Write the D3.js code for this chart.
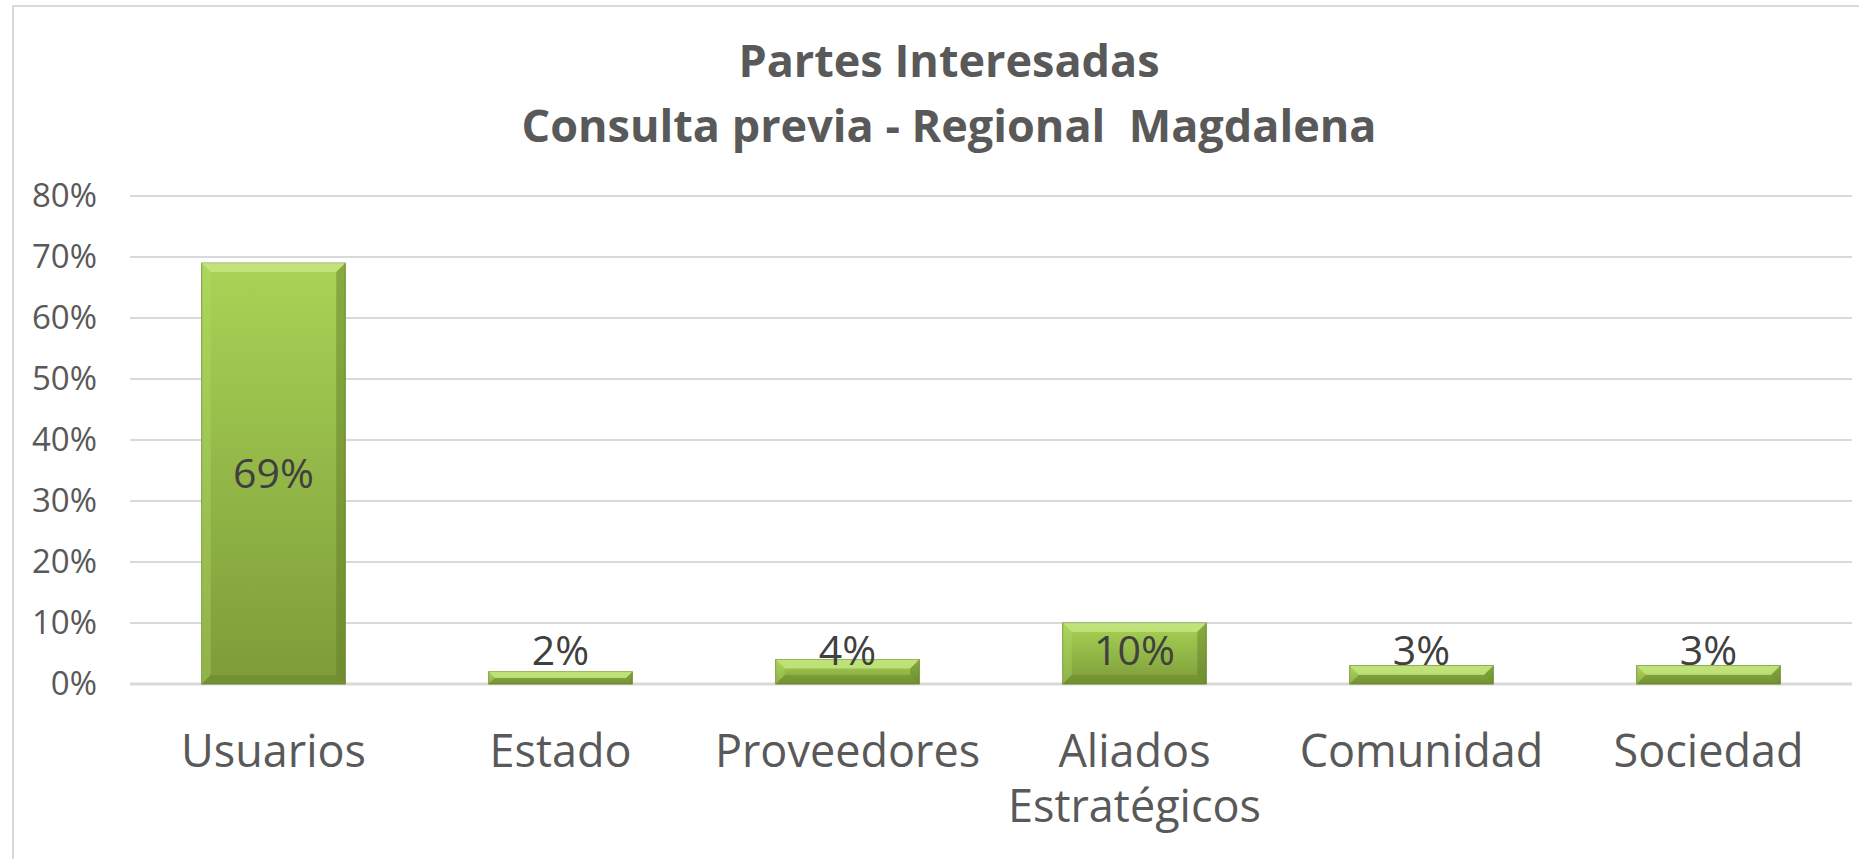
<!DOCTYPE html>
<html>
<head>
<meta charset="utf-8">
<script src="https://cdn.jsdelivr.net/npm/d3@7"></script>
<style>
  body { margin: 0; background: #fff; }
  svg { display: block; font-family: "Open Sans", "Noto Sans", sans-serif; }
</style>
</head>
<body>
<div id="chart"></div>
<script>
// chart data
var categories = ["Usuarios", "Estado", "Proveedores", "Aliados Estratégicos", "Comunidad", "Sociedad"]
var tickLines = [["Usuarios"], ["Estado"], ["Proveedores"], ["Aliados", "Estratégicos"], ["Comunidad"], ["Sociedad"]]
var values = [0.69, 0.02, 0.04, 0.10, 0.03, 0.03]
var yTicks = [0, 0.1, 0.2, 0.3, 0.4, 0.5, 0.6, 0.7, 0.8]
var titleLines = ["Partes Interesadas", "Consulta previa - Regional  Magdalena"]

var W = 1859, H = 859
var margin = {top: 196, right: 7, bottom: 175, left: 130}

var svg = d3.select("#chart")
  .append("svg")
    .attr("width", W)
    .attr("height", H)

// outer chart border
svg.append("rect")
  .attr("x", 13).attr("y", 6)
  .attr("width", W + 20).attr("height", H + 20)
  .attr("fill", "none")
  .attr("stroke", "#d9d9d9")
  .attr("stroke-width", 2)

// title
svg.append("g")
  .selectAll("text")
  .data(titleLines)
  .enter()
  .append("text")
    .attr("x", 949)
    .attr("y", function(d, i) { return 77 + i * 65 })
    .attr("text-anchor", "middle")
    .style("font-weight", "bold")
    .style("font-size", "45px")
    .style("white-space", "pre")
    .style("fill", "#595959")
    .text(function(d) { return d })

var x = d3.scaleBand()
  .domain(categories)
  .range([margin.left, W - margin.right])
  .paddingInner(0.5)
  .paddingOuter(0.25)

var y = d3.scaleLinear()
  .domain([0, 0.8])
  .range([H - margin.bottom, margin.top])

// gridlines
svg.append("g")
  .selectAll("line")
  .data(yTicks)
  .enter()
  .append("line")
    .attr("x1", margin.left)
    .attr("x2", W - margin.right)
    .attr("y1", function(d) { return y(d) })
    .attr("y2", function(d) { return y(d) })
    .attr("stroke", "#d9d9d9")
    .attr("stroke-width", function(d) { return d === 0 ? 3 : 2 })

// y axis labels
var yAxis = svg.append("g")
  .attr("transform", "translate(" + (margin.left - 33) + ",0)")
  .call(d3.axisLeft(y).tickValues(yTicks).tickFormat(d3.format(".0%")).tickSize(0).tickPadding(0))
yAxis.select(".domain").remove()
yAxis.selectAll("text")
  .style("font-size", "33px")
  .style("font-family", "'Open Sans', sans-serif")
  .style("fill", "#595959")

// x axis labels
var xAxis = svg.append("g")
  .attr("transform", "translate(0," + y(0) + ")")
  .call(d3.axisBottom(x).tickSize(0).tickFormat(""))
xAxis.select(".domain").remove()
xAxis.selectAll(".tick")
  .each(function(d, i) {
    var t = d3.select(this).append("text")
      .attr("text-anchor", "middle")
      .style("font-size", "45px")
      .style("font-family", "'Open Sans', sans-serif")
      .style("fill", "#595959")
    tickLines[i].forEach(function(line, j) {
      t.append("tspan").attr("x", 0).attr("y", 83 + j * 55).text(line)
    })
  })

// bar gradient
var defs = svg.append("defs")
var grad = defs.append("linearGradient")
  .attr("id", "barGrad")
  .attr("x1", 0).attr("y1", 0).attr("x2", 0).attr("y2", 1)
grad.append("stop").attr("offset", "0%").attr("stop-color", "#a9d356")
grad.append("stop").attr("offset", "100%").attr("stop-color", "#7d9c39")

var bars = svg.append("g")
  .selectAll("g")
  .data(values)
  .enter()
  .append("g")

bars.append("rect")
  .attr("x", function(d, i) { return x(categories[i]) })
  .attr("y", function(d) { return y(d) })
  .attr("width", x.bandwidth())
  .attr("height", function(d) { return y(0) - y(d) })
  .attr("fill", "url(#barGrad)")
  .attr("stroke", "#6f8c30")
  .attr("stroke-width", 1)

// bevel edges
function bevel(d, i, side) {
  var x0 = x(categories[i]), x1 = x0 + x.bandwidth()
  var y0 = y(d), y1 = y(0)
  var b = Math.min(9, (y1 - y0) / 2)
  if (side === "top") return "M" + x0 + "," + y0 + "L" + x1 + "," + y0 + "L" + (x1 - b) + "," + (y0 + b) + "L" + (x0 + b) + "," + (y0 + b) + "Z"
  if (side === "bottom") return "M" + x0 + "," + y1 + "L" + x1 + "," + y1 + "L" + (x1 - b) + "," + (y1 - b) + "L" + (x0 + b) + "," + (y1 - b) + "Z"
  if (side === "left") return "M" + x0 + "," + y0 + "L" + (x0 + b) + "," + (y0 + b) + "L" + (x0 + b) + "," + (y1 - b) + "L" + x0 + "," + y1 + "Z"
  return "M" + x1 + "," + y0 + "L" + (x1 - b) + "," + (y0 + b) + "L" + (x1 - b) + "," + (y1 - b) + "L" + x1 + "," + y1 + "Z"
}
var bevelStyle = {top: ["#c8ea85", 0.75], left: ["#b5dc68", 0.35], right: ["#5e7a25", 0.45], bottom: ["#5e7a25", 0.35]}
Object.keys(bevelStyle).forEach(function(side) {
  bars.append("path")
    .attr("d", function(d, i) { return bevel(d, i, side) })
    .attr("fill", bevelStyle[side][0])
    .attr("opacity", bevelStyle[side][1])
})

// data labels
bars.append("text")
  .attr("x", function(d, i) { return x(categories[i]) + x.bandwidth() / 2 })
  .attr("y", function(d) { return y(Math.max(d / 2, 0.055)) })
  .attr("dy", "0.36em")
  .attr("text-anchor", "middle")
  .style("font-size", "41px")
  .style("fill", "#404040")
  .text(function(d) { return d3.format(".0%")(d) })
</script>
</body>
</html>
